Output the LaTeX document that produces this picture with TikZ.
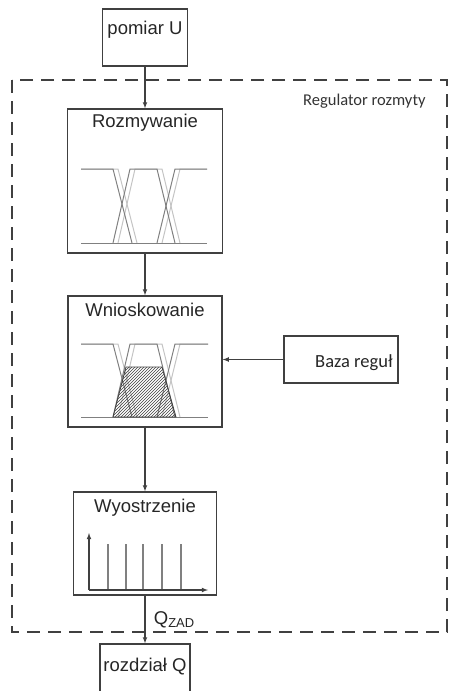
\documentclass[tikz,border=0pt]{standalone}
\usepackage{fontspec}
\setmainfont{Liberation Sans}
\newfontfamily\calfont{Carlito}
\usetikzlibrary{arrows}
\usetikzlibrary{patterns}
\usetikzlibrary{positioning}
\tikzset{>=latex}
\definecolor{ramka}{HTML}{404040}
\definecolor{fz1}{HTML}{808080}
\definecolor{fz2}{HTML}{C4C4C4}

\begin{document}
\begin{tikzpicture}[x=1pt,y=-1pt,
  blok/.style={draw=ramka,line width=1.3pt,inner sep=0pt},
  opis/.style={anchor=base,inner sep=0pt,font=\fontsize{18.5}{20}\selectfont,text=black!85},
  strz/.style={->,draw=ramka,line width=1.1pt},
  fz/.style={line width=1pt}]
  \useasboundingbox (0,0) rectangle (455,691);
  \def\xc{145}
  % regulator
  \draw[ramka,line width=1.6pt,dash pattern=on 13pt off 8pt] (12,80) rectangle (447,632);
  \node[anchor=base west,inner sep=0pt,font=\calfont\fontsize{16.5}{18}\selectfont,text=black!80] (reg) at (303,105) {Regulator rozmyty};
  % bloki
  \node[blok,minimum width=85,minimum height=57] (pom) at (\xc,37.5) {};
  \node[blok,minimum width=155,minimum height=144] (rozm) at (\xc,181) {};
  \node[blok,minimum width=154,minimum height=131] (wnio) at (\xc,361.5) {};
  \node[blok,minimum width=114,minimum height=47] (baza) at (341,359.5) {};
  \node[blok,minimum width=143,minimum height=103] (wyos) at (\xc,543.5) {};
  \node[blok,minimum width=90,minimum height=60] (rozdz) at (\xc,674) {};
  % napisy
  \node[opis] (tpom) at ([yshift=-26pt]pom.north) {pomiar U};
  \node[opis] (trozm) at ([yshift=-19pt]rozm.north) {Rozmywanie};
  \node[opis] (twnio) at ([yshift=-21pt]wnio.north) {Wnioskowanie};
  \node[opis] (twyos) at ([yshift=-21pt]wyos.north) {Wyostrzenie};
  \node[opis] (trozdz) at ([yshift=-28pt]rozdz.north) {rozdział Q};
  \node[anchor=base west,inner sep=0pt,font=\calfont\fontsize{18.5}{20}\selectfont,text=black!85] (tbaza) at (315,367) {Baza reguł};
  % funkcje przynaleznosci
  \foreach \s/\c in {5/fz2,0/fz1} {
    \draw[fz,\c] (81,169) -- (113+\s,169) -- (132+\s,243);
    \draw[fz,\c] (113+\s,243) -- (130+\s,169) -- (157+\s,169) -- (175+\s,243);
    \draw[fz,\c] (157+\s,243) -- (175+\s,169) -- (207,169);
    \draw[fz,\c] (81,344) -- (113+\s,344) -- (132+\s,417);
    \draw[fz,\c] (113+\s,417) -- (130+\s,344) -- (157+\s,344) -- (175+\s,417);
    \draw[fz,\c] (157+\s,417) -- (175+\s,344) -- (208,344);
  }
  \draw[fz,fz1] (81,243) -- (207,243);
  \draw[fz,fz1] (81,417) -- (208,417);
  \filldraw[pattern=north east lines,pattern color=ramka,draw=ramka,line width=0.8pt]
    (113,417) -- (126,367) -- (162,367) -- (176,417) -- cycle;
  % wyostrzanie
  \foreach \x in {108,126,143,162,181}
    \draw[fz,fz1,line width=1.2pt] (\x,590) -- (\x,544);
  \draw[->,ramka,line width=1.1pt] (89,590) -- (89,533);
  \draw[->,ramka,line width=1.1pt] (89,590) -- (208,590);
  % polaczenia
  \draw[strz] (pom) -- (rozm);
  \draw[strz] (rozm) -- (wnio);
  \draw[strz] (wnio) -- (wyos);
  \draw[strz] (baza.west) -- (baza.west -| wnio.east);
  \draw[strz] (wyos) -- (rozdz) node[midway,right=5pt,font=\fontsize{18.5}{20}\selectfont,text=black!85] {Q\textsubscript{ZAD}};
\end{tikzpicture}
\end{document}
